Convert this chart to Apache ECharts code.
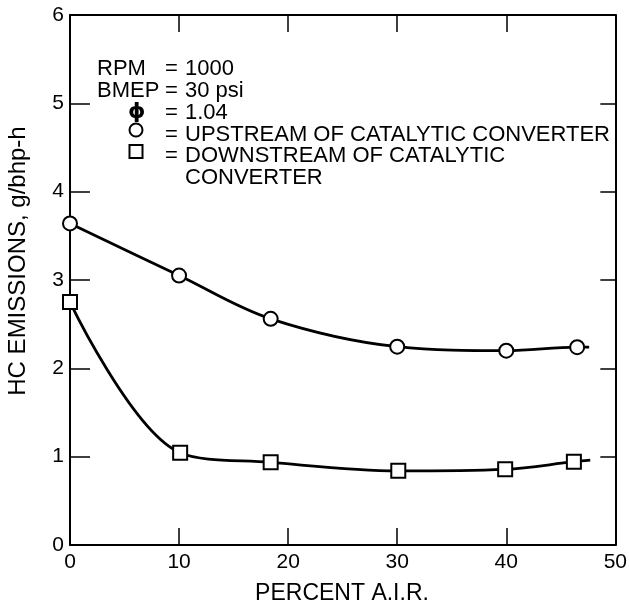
<!DOCTYPE html>
<html><head><meta charset="utf-8">
<script src="https://cdn.jsdelivr.net/npm/echarts@6/dist/echarts.min.js"></script>
<style>html,body{margin:0;padding:0;background:#fff}#c{width:630px;height:607px}</style>
</head><body><div id="c"></div>
<script>
// Data
const upX = [0, 10, 18.4, 30, 40, 46.5];
const upY = [3.64, 3.05, 2.56, 2.245, 2.2, 2.24];
const upEnd = [47.6, 2.24];
const downX = [0, 10.1, 18.4, 30.1, 39.9, 46.2];
const downY = [2.75, 1.045, 0.936, 0.84, 0.857, 0.943];
const downEnd = [47.7, 0.96];
const xTicks = [0, 10, 20, 30, 40, 50];
const yTicks = [0, 1, 2, 3, 4, 5, 6];
const xName = 'PERCENT A.I.R.';
const yName = 'HC EMISSIONS, g/bhp-h';
const notes = [
  ['RPM', '=', '1000'],
  ['BMEP', '=', '30 psi'],
  ['ϕ', '=', '1.04'],
  ['', '=', 'UPSTREAM OF CATALYTIC CONVERTER'],
  ['', '=', 'DOWNSTREAM OF CATALYTIC'],
  ['', '', 'CONVERTER']
];

const FONT = '"Liberation Sans", Arial, sans-serif';
const chart = echarts.init(document.getElementById('c'), null, {renderer: 'canvas'});

const pts = (xs, ys) => xs.map((x, i) => [x, ys[i]]);
const baseX = {
  type: 'value', min: xTicks[0], max: xTicks[xTicks.length - 1], interval: xTicks[1] - xTicks[0],
  splitLine: {show: false},
  axisLine: {show: true, onZero: false, lineStyle: {color: '#000', width: 2}},
  axisTick: {show: true, inside: true, length: 17, lineStyle: {color: '#000', width: 1.5}}
};
const baseY = {
  type: 'value', min: yTicks[0], max: yTicks[yTicks.length - 1], interval: yTicks[1] - yTicks[0],
  splitLine: {show: false},
  axisLine: {show: true, onZero: false, lineStyle: {color: '#000', width: 2}},
  axisTick: {show: true, inside: true, length: 20, lineStyle: {color: '#000', width: 1.5}}
};

const graphics = [];
// y axis title
graphics.push({type: 'text', x: 18, y: 261, rotation: Math.PI / 2,
  style: {text: yName, font: '24px ' + FONT, fill: '#000', align: 'center', verticalAlign: 'middle'}});
// x axis title
graphics.push({type: 'text', x: 342, y: 594,
  style: {text: xName, font: '23px ' + FONT, fill: '#000', align: 'center', verticalAlign: 'middle'}});
// annotation block
const lineMid = [69, 90.5, 112.5, 134.5, 156, 177.5];
const colX = [97, 165, 185];
notes.forEach((row, i) => {
  const isPhi = (i === 2);
  if (row[0]) graphics.push({type: 'text', x: isPhi ? 128 : colX[0], y: lineMid[i],
    style: {text: row[0], font: (isPhi ? 'bold 22px "DejaVu Sans", ' : '22px ') + FONT, fill: '#000', align: 'left', verticalAlign: 'middle'}});
  if (row[1]) graphics.push({type: 'text', x: colX[1], y: lineMid[i],
    style: {text: row[1], font: '22px ' + FONT, fill: '#000', align: 'left', verticalAlign: 'middle'}});
  if (row[2]) graphics.push({type: 'text', x: colX[2], y: lineMid[i],
    style: {text: row[2], font: '22px ' + FONT, fill: '#000', align: 'left', verticalAlign: 'middle'}});
});
// legend symbols
graphics.push({type: 'circle', shape: {cx: 136, cy: 130, r: 6.5},
  style: {fill: '#fff', stroke: '#000', lineWidth: 2}});
graphics.push({type: 'rect', shape: {x: 129.5, y: 145, width: 13, height: 13},
  style: {fill: '#fff', stroke: '#000', lineWidth: 2}});

const option = {
  animation: false,
  backgroundColor: '#fff',
  grid: {left: 70, right: 11, top: 15, bottom: 62, containLabel: false},
  xAxis: [
    Object.assign({}, baseX, {position: 'bottom',
      axisLabel: {show: true, color: '#000', fontSize: 21, fontFamily: FONT, margin: 7}}),
    Object.assign({}, baseX, {position: 'top', axisLabel: {show: false}})
  ],
  yAxis: [
    Object.assign({}, baseY, {position: 'left',
      axisLabel: {show: true, color: '#000', fontSize: 21, fontFamily: FONT, margin: 6}}),
    Object.assign({}, baseY, {position: 'right', axisLabel: {show: false},
      axisTick: {show: true, inside: true, length: 15, lineStyle: {color: '#000', width: 1.5}}})
  ],
  series: [
    {type: 'line', smooth: 0.35, showSymbol: false, symbol: 'none', z: 2,
      data: pts(upX, upY).concat([upEnd]), lineStyle: {color: '#000', width: 2.8}},
    {type: 'line', smooth: 0.35, showSymbol: false, symbol: 'none', z: 2,
      data: pts(downX, downY).concat([downEnd]), lineStyle: {color: '#000', width: 2.8}},
    {type: 'scatter', symbol: 'circle', symbolSize: 14, z: 5, data: pts(upX, upY),
      itemStyle: {color: '#fff', borderColor: '#000', borderWidth: 2, opacity: 1}},
    {type: 'scatter', symbol: 'rect', symbolSize: 14, z: 5, data: pts(downX, downY),
      itemStyle: {color: '#fff', borderColor: '#000', borderWidth: 2, opacity: 1}}
  ],
  graphic: graphics
};
chart.setOption(option);
</script>
</body></html>
